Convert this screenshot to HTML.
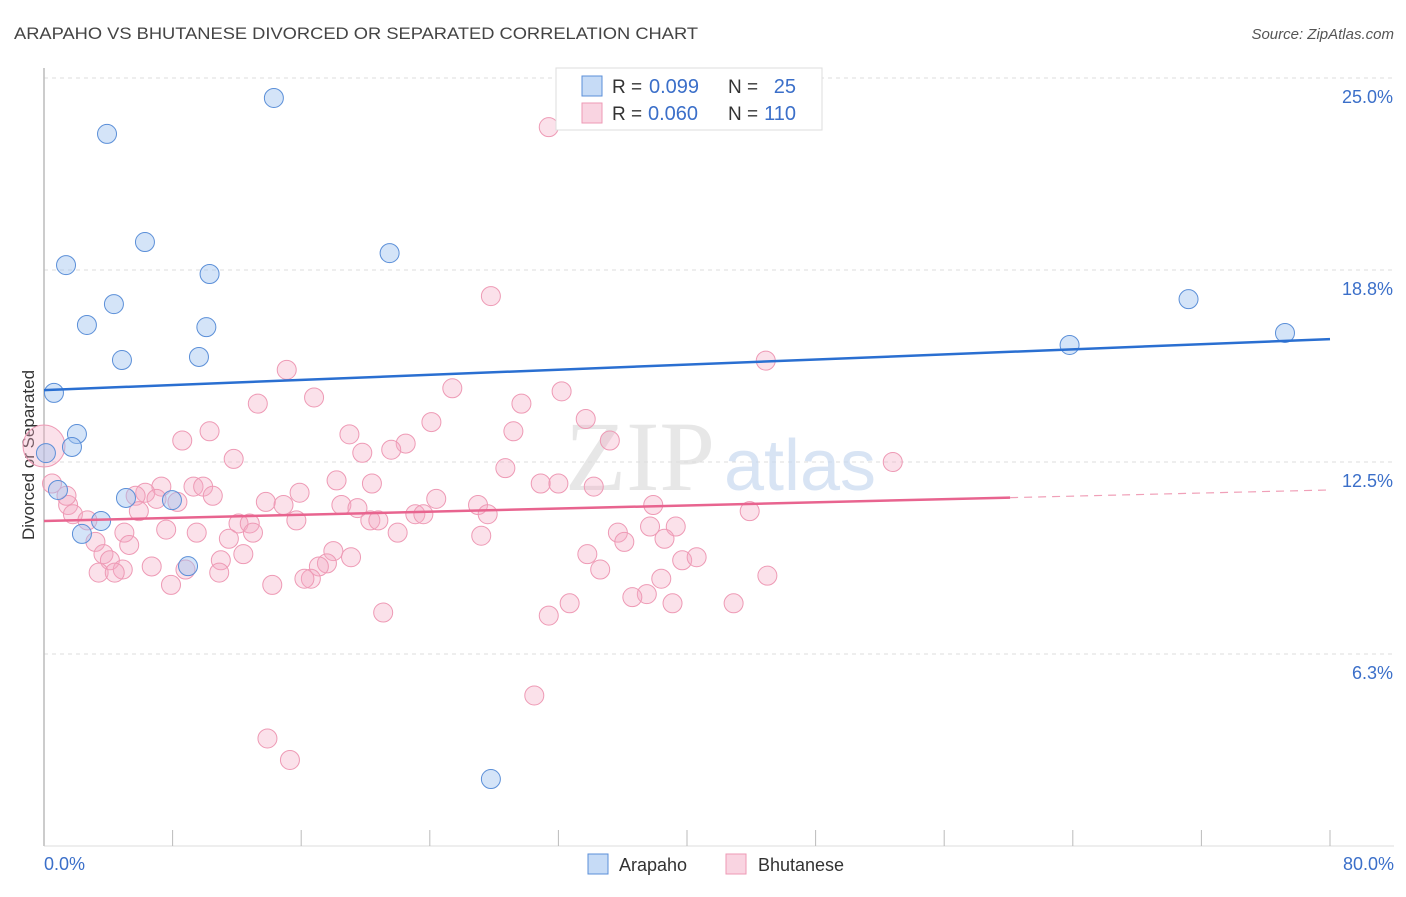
<!DOCTYPE html>
<html><head><meta charset="utf-8"><style>
body{margin:0;background:#fff;font-family:"Liberation Sans",sans-serif;}
</style></head><body>
<svg width="1406" height="892" xmlns="http://www.w3.org/2000/svg">
<text x="14" y="39" font-size="17" fill="#444" textLength="684" lengthAdjust="spacingAndGlyphs">ARAPAHO VS BHUTANESE DIVORCED OR SEPARATED CORRELATION CHART</text>
<text x="1394" y="39" font-size="15" fill="#555" font-style="italic" text-anchor="end">Source: ZipAtlas.com</text>
<g id="grid"></g>
<g id="ylabels"></g>
<line x1="44" y1="68" x2="44" y2="846" stroke="#bbb" stroke-width="1.5"/>
<line x1="44" y1="846" x2="1394" y2="846" stroke="#ddd" stroke-width="1"/>
<g id="xticks"></g>
<text x="34" y="455" font-size="17" fill="#333" text-anchor="middle" transform="rotate(-90 34 455)">Divorced or Separated</text>
<text x="44" y="870" font-size="18" fill="#3b6fc9">0.0%</text>
<text x="1394" y="870" font-size="18" fill="#3b6fc9" text-anchor="end">80.0%</text>
<text x="640" y="490" font-size="100" fill="#ddd" font-family="Liberation Serif,serif" text-anchor="middle" opacity="0.7">ZIP</text>
<text x="800" y="490" font-size="72" fill="#c8d9f0" text-anchor="middle" opacity="0.7">atlas</text>
<circle cx="44" cy="446" r="21" fill="rgba(244,170,195,0.35)" stroke="#ee9ab5" stroke-width="1"/>
<g id="pink"></g>
<g id="blue"></g>
<g id="lines"></g>
<g>
<rect x="556" y="68" width="266" height="62" fill="#fff" stroke="#ddd"/>
<rect x="582" y="76" width="20" height="20" fill="rgba(160,195,240,0.6)" stroke="#5b8fd8"/>
<rect x="582" y="103" width="20" height="20" fill="rgba(244,170,195,0.5)" stroke="#ee9ab5"/>
<text x="612" y="93" font-size="19" fill="#333">R =</text>
<text x="649" y="93" font-size="20" fill="#3b6fc9">0.099</text>
<text x="728" y="93" font-size="19" fill="#333">N =</text>
<text x="796" y="93" font-size="20" fill="#3b6fc9" text-anchor="end">25</text>
<text x="612" y="120" font-size="19" fill="#333">R =</text>
<text x="648" y="120" font-size="20" fill="#3b6fc9">0.060</text>
<text x="728" y="120" font-size="19" fill="#333">N =</text>
<text x="796" y="120" font-size="20" fill="#3b6fc9" text-anchor="end">110</text>
</g>
<g>
<rect x="588" y="854" width="20" height="20" fill="rgba(160,195,240,0.6)" stroke="#5b8fd8"/>
<text x="619" y="871" font-size="18" fill="#333">Arapaho</text>
<rect x="726" y="854" width="20" height="20" fill="rgba(244,170,195,0.5)" stroke="#ee9ab5"/>
<text x="758" y="871" font-size="18" fill="#333">Bhutanese</text>
</g>
</svg>
<script>
const yTicks=[6.3,12.5,18.8,25.0];
const yTickLabels=["6.3%","12.5%","18.8%","25.0%"];
const xTickValues=[0,8,16,24,32,40,48,56,64,72,80];
const blueX=[0.62,3.92,14.3,6.28,1.37,10.3,21.5,4.35,2.67,10.1,4.85,9.64,2.05,1.74,0.12,0.87,5.1,7.96,3.55,2.36,8.96,27.8,63.8,71.2,77.2];
const blueY=[14.75,23.18,24.35,19.66,18.91,18.62,19.30,17.64,16.96,16.89,15.82,15.92,13.41,12.99,12.79,11.59,11.33,11.26,10.58,10.16,9.11,2.18,16.31,17.80,16.70];
const pinkX=[31.4,27.8,44.9,15.1,25.4,32.2,16.8,13.3,29.7,33.7,24.1,8.6,10.3,19.0,29.2,22.5,35.2,19.8,21.6,11.8,52.8,28.7,18.2,30.9,20.4,32.0,34.2,7.3,6.3,9.3,9.9,15.9,10.5,5.7,13.8,14.9,24.4,7.0,8.3,18.5,19.5,27.0,37.9,1.5,1.8,2.7,5.9,23.1,23.6,27.6,15.7,12.1,12.8,20.3,20.8,37.7,39.3,7.6,9.5,13.0,22.0,27.2,35.7,5.0,38.6,43.9,11.5,3.2,36.1,5.3,3.7,33.8,18.0,19.1,4.1,12.4,11.0,39.7,40.6,17.6,17.1,6.7,34.6,4.9,3.4,4.4,8.8,10.9,16.6,16.2,45.0,38.4,14.2,7.9,37.5,36.6,32.7,39.1,42.9,21.1,31.4,30.5,13.9,15.3,0.5,1.4];
const pinkY=[23.4,17.9,15.8,15.5,14.9,14.8,14.6,14.4,14.4,13.9,13.8,13.2,13.5,13.4,13.5,13.1,13.2,12.8,12.9,12.6,12.5,12.3,11.9,11.8,11.8,11.8,11.7,11.7,11.5,11.7,11.7,11.5,11.4,11.4,11.2,11.1,11.3,11.3,11.2,11.1,11.0,11.1,11.1,11.1,10.8,10.6,10.9,10.8,10.8,10.8,10.6,10.5,10.5,10.6,10.6,10.4,10.4,10.3,10.2,10.2,10.2,10.1,10.2,10.2,10.0,10.9,10.0,9.9,9.9,9.8,9.5,9.5,9.6,9.4,9.3,9.5,9.3,9.3,9.4,9.2,9.1,9.1,9.0,9.0,8.9,8.9,9.0,8.9,8.7,8.7,8.8,8.7,8.5,8.5,8.2,8.1,7.9,7.9,7.9,7.6,7.5,4.9,3.5,2.8,11.8,11.4];
const blueTrend=[[0,14.84],[80,16.50]];
const pinkTrendSolid=[[0,10.58],[60.1,11.34]];
const pinkTrendDash=[[60.1,11.34],[80,11.59]];
const NS="http://www.w3.org/2000/svg";
function sx(v){return 44+v/80*1286;}
function sy(v){return 846-v/6.25*192;}
function mk(t,a,p){const e=document.createElementNS(NS,t);for(const k in a)e.setAttribute(k,a[k]);p.appendChild(e);return e;}
const grid=document.getElementById('grid'),yl=document.getElementById('ylabels');
yTicks.forEach((v,i)=>{
 const y=sy(v===6.3?6.25:v===18.8?18.75:v);
 const l=mk('line',{x1:44,x2:1394,y1:y,y2:y,stroke:'#ddd','stroke-dasharray':'4,4'},grid);
 
 
 const t=mk('text',{x:1393,y:y+25,'font-size':18,fill:'#3b6fc9','text-anchor':'end'},yl);
 t.textContent=yTickLabels[i];
 
 
});
const xt=document.getElementById('xticks');
xTickValues.forEach(v=>{
 const l=mk('line',{x1:sx(v),x2:sx(v),y1:830,y2:846,stroke:'#bbb'},xt);
 
 
});
const pg=document.getElementById('pink');
pinkX.forEach((x,i)=>{
 const c=mk('circle',{cx:sx(x),cy:sy(pinkY[i]),r:9.5,fill:'rgba(244,170,195,0.35)',stroke:'#ee9ab5','stroke-width':1},pg);
 
 
});
const bg=document.getElementById('blue');
blueX.forEach((x,i)=>{
 const c=mk('circle',{cx:sx(x),cy:sy(blueY[i]),r:9.5,fill:'rgba(160,195,240,0.45)',stroke:'#5b8fd8','stroke-width':1},bg);
 
 
});
const lg=document.getElementById('lines');
function ln(p,col,dash,name){const l=mk('line',{x1:sx(p[0][0]),y1:sy(p[0][1]),x2:sx(p[1][0]),y2:sy(p[1][1]),stroke:col,'stroke-width':dash?1.2:2.5},lg);if(dash)l.setAttribute('stroke-dasharray','8,6');
 
 }
ln(blueTrend,'#2a6fd1',false,'arapaho-trend-line');
ln(pinkTrendSolid,'#e8648f',false,'bhutanese-trend-line');
ln(pinkTrendDash,'#f0a0b8',true,'bhutanese-trend-extension');
</script>
</body></html>
